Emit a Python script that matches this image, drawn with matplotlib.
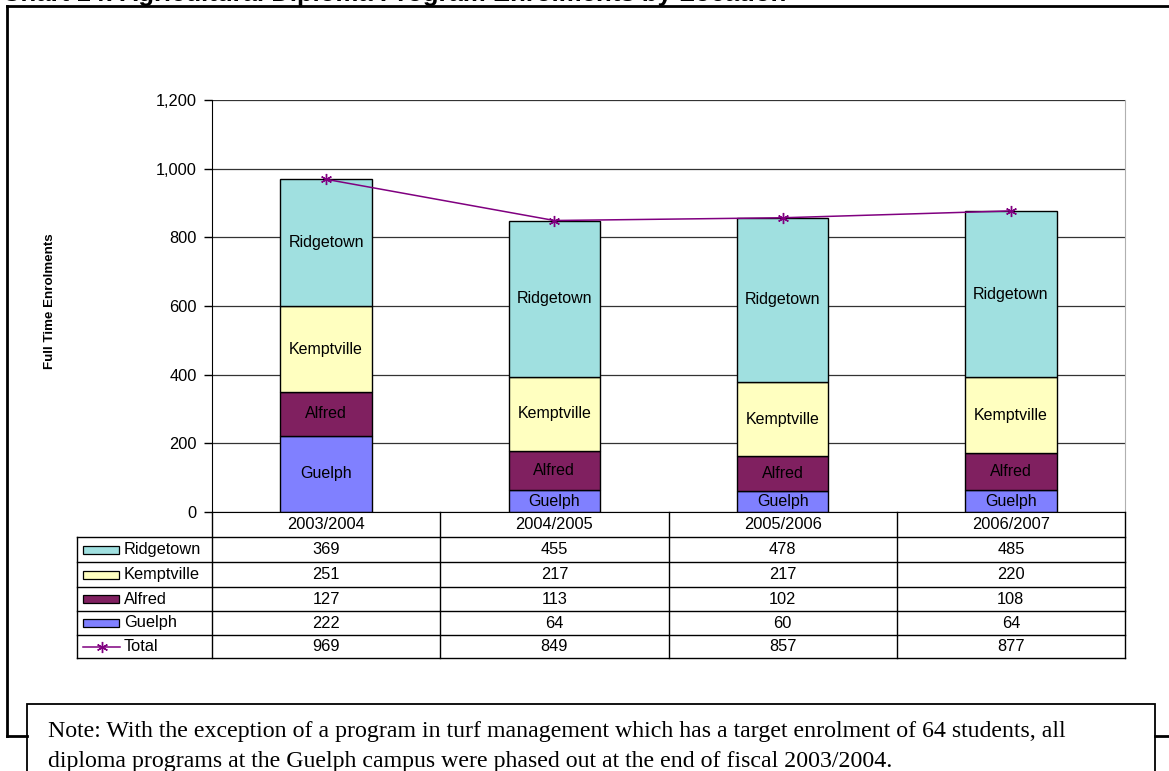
import matplotlib
matplotlib.use("Agg")
import matplotlib.pyplot as plt
from matplotlib.patches import Rectangle
from matplotlib.lines import Line2D
from matplotlib.transforms import blended_transform_factory

# ---- data ----
years = ["2003/2004", "2004/2005", "2005/2006", "2006/2007"]
guelph = [222, 64, 60, 64]
alfred = [127, 113, 102, 108]
kemptville = [251, 217, 217, 220]
ridgetown = [369, 455, 478, 485]
total = [969, 849, 857, 877]
y_ticks = [0, 200, 400, 600, 800, 1000, 1200]
y_tick_labels = ["0", "200", "400", "600", "800", "1,000", "1,200"]

title_text = "Chart 14: Agricultural Diploma Program Enrolments by Location"
note_lines = [
    "Note: With the exception of a program in turf management which has a target enrolment of 64 students, all",
    "diploma programs at the Guelph campus were phased out at the end of fiscal 2003/2004.",
]

colors = {
    "Ridgetown": "#A0E0E0",
    "Kemptville": "#FFFFC0",
    "Alfred": "#802060",
    "Guelph": "#8080FF",
}
total_color = "#800080"

W, H = 1169, 771
fig = plt.figure(figsize=(W / 100, H / 100), dpi=100)
sans = ["Liberation Sans", "DejaVu Sans"]
serif = ["Liberation Serif", "DejaVu Serif"]
FS = 11.8  # general sans-serif text size


def fx(px):
    return px / W


def fy(py):
    return 1 - py / H


# ---- outer frame and note box ----
frame_kw = dict(color="black", lw=2.0, transform=fig.transFigure, clip_on=False)
fig.add_artist(Line2D([fx(7), fx(7)], [fy(6), fy(736)], **frame_kw))
fig.add_artist(Line2D([fx(7), fx(1175)], [fy(6), fy(6)], **frame_kw))
fig.add_artist(Line2D([fx(7), fx(27)], [fy(736), fy(736)], **frame_kw))
fig.add_artist(Line2D([fx(1155), fx(1175)], [fy(736), fy(736)], **frame_kw))
fig.add_artist(Rectangle((fx(27), fy(790)), fx(1155) - fx(27), fy(704) - fy(790),
                         transform=fig.transFigure, facecolor="white",
                         edgecolor="black", lw=1.3, clip_on=False))
fig.text(fx(48), fy(737), note_lines[0], family=serif, fontsize=17.2,
         va="baseline", ha="left")
fig.text(fx(48), fy(767), note_lines[1], family=serif, fontsize=17.2,
         va="baseline", ha="left")

# chart title, mostly above the top edge of the page
fig.text(fx(2), fy(0.5), title_text, family=sans, fontsize=18.5,
         fontweight="bold", va="baseline", ha="left")

# ---- plot area ----
L, R, T, B = 212, 1125, 100, 512
ax = fig.add_axes([fx(L), fy(B), fx(R) - fx(L), fy(T) - fy(B)])
ax.set_xlim(-0.5, 3.5)
ax.set_ylim(0, 1200)
ax.set_yticks(y_ticks)
ax.set_yticklabels(y_tick_labels, family=sans, fontsize=FS)
ax.set_xticks([])
ax.tick_params(axis="y", direction="out", length=6, width=1, pad=5)
ax.grid(axis="y", color="#333333", lw=0.9)
ax.set_axisbelow(True)
ax.spines["top"].set_visible(False)
ax.spines["right"].set_color("#b0b0b0")
ax.spines["left"].set_color("black")
ax.spines["bottom"].set_color("black")

x = list(range(len(years)))
bar_w = 0.4
series = [("Guelph", guelph), ("Alfred", alfred),
          ("Kemptville", kemptville), ("Ridgetown", ridgetown)]
bottom = [0] * len(years)
for name, vals in series:
    ax.bar(x, vals, bar_w, bottom=bottom, color=colors[name],
           edgecolor="black", lw=1.0, zorder=2)
    for i, v in enumerate(vals):
        ax.text(x[i], bottom[i] + v / 2, name, ha="center", va="center",
                family=sans, fontsize=11.5, color="black", zorder=4,
                bbox=dict(facecolor=colors[name], edgecolor="none", pad=1.2))
    bottom = [b + v for b, v in zip(bottom, vals)]

ax.plot(x, total, color=total_color, lw=1.1, marker=(6, 2, 0), ms=8,
        mew=1.0, zorder=5, clip_on=False)

ax.set_ylabel("Full Time Enrolments", family=sans, fontsize=9.6,
              fontweight="bold")
ax.yaxis.set_label_coords(fx(56), fy(301), transform=fig.transFigure)

# ---- data table beneath the chart ----
bt = blended_transform_factory(ax.transData, fig.transFigure)
row_y = [512, 537, 562, 587, 611, 635, 658]
left_px = 77
line_kw = dict(color="black", lw=1.0, clip_on=False)

# vertical column boundaries
for b in [i - 0.5 for i in range(len(years) + 1)]:
    fig.add_artist(Line2D([b, b], [fy(row_y[0]), fy(row_y[-1])],
                          transform=bt, **line_kw))
fig.add_artist(Line2D([fx(left_px), fx(left_px)], [fy(row_y[1]), fy(row_y[-1])],
                      transform=fig.transFigure, **line_kw))
# horizontal row boundaries
for ry in row_y[1:]:
    fig.add_artist(Line2D([fx(left_px), fx(R)], [fy(ry), fy(ry)],
                          transform=fig.transFigure, **line_kw))

# header row
for i, yr in enumerate(years):
    fig.text(x[i], fy((row_y[0] + row_y[1]) / 2), yr, transform=bt,
             ha="center", va="center", family=sans, fontsize=FS)

table_rows = [("Ridgetown", ridgetown), ("Kemptville", kemptville),
              ("Alfred", alfred), ("Guelph", guelph), ("Total", total)]
for r, (name, vals) in enumerate(table_rows):
    yc = (row_y[r + 1] + row_y[r + 2]) / 2
    if name == "Total":
        fig.add_artist(Line2D([fx(83), fx(120)], [fy(yc), fy(yc)],
                              transform=fig.transFigure, color=total_color,
                              lw=1.1, clip_on=False))
        fig.add_artist(Line2D([fx(101.5)], [fy(yc)], transform=fig.transFigure,
                              color=total_color, marker=(6, 2, 0), ms=8,
                              mew=1.0, lw=0, clip_on=False))
    else:
        fig.add_artist(Rectangle((fx(83), fy(yc + 4)), fx(119) - fx(83),
                                 fy(yc - 4) - fy(yc + 4),
                                 transform=fig.transFigure,
                                 facecolor=colors[name], edgecolor="black",
                                 lw=0.9, clip_on=False))
    fig.text(fx(124), fy(yc), name, ha="left", va="center", family=sans,
             fontsize=FS)
    for i, v in enumerate(vals):
        fig.text(x[i], fy(yc), f"{v:,}", transform=bt, ha="center",
                 va="center", family=sans, fontsize=FS)

fig.savefig("out.png", dpi=100)
